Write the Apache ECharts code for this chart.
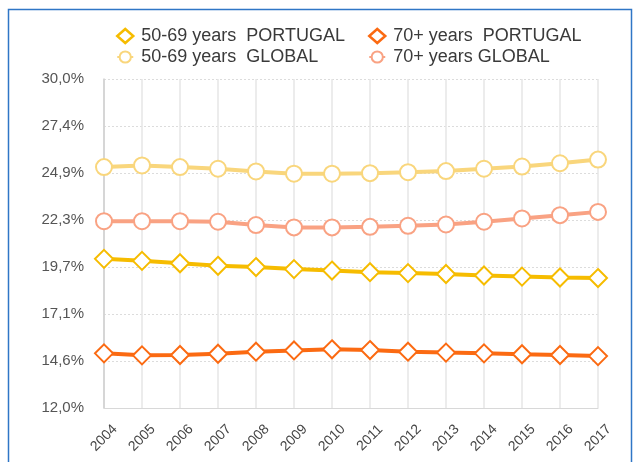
<!DOCTYPE html>
<html>
<head>
<meta charset="utf-8">
<script src="https://cdn.jsdelivr.net/npm/echarts@6/dist/echarts.min.js"></script>
<style>
  html, body { margin: 0; padding: 0; background: #fff; }
  #main { width: 636px; height: 462px; }
</style>
</head>
<body>
<div id="main"></div>
<script>
// years on the x axis
var years = ['2004', '2005', '2006', '2007', '2008', '2009', '2010',
             '2011', '2012', '2013', '2014', '2015', '2016', '2017'];

// values (%)
var pt5069 = [20.16, 20.05, 19.92, 19.78, 19.71, 19.60, 19.52, 19.43, 19.38, 19.33, 19.25, 19.19, 19.14, 19.11];
var pt70 = [14.99, 14.88, 14.90, 14.97, 15.08, 15.15, 15.21, 15.17, 15.08, 15.03, 14.99, 14.94, 14.90, 14.84];
var gl5069 = [25.18, 25.27, 25.18, 25.09, 24.94, 24.82, 24.82, 24.85, 24.90, 24.96, 25.09, 25.21, 25.39, 25.59];
var gl70 = [22.22, 22.22, 22.22, 22.19, 22.01, 21.88, 21.88, 21.91, 21.97, 22.04, 22.19, 22.37, 22.55, 22.73];

var yMin = 12, yMax = 30;

var chartDom = document.getElementById('main');
var myChart = echarts.init(chartDom);

var cPt5069 = '#f6bc00';
var cPt70 = '#fb6a12';
var cGl5069 = '#f9d67c';
var cGl70 = '#f9a283';

function diamondItem(name, color) {
  return {
    name: name,
    icon: 'diamond',
    itemStyle: { color: '#fff', borderColor: color, borderWidth: 2.5 }
  };
}

var legendText = { fontFamily: 'Liberation Sans', fontSize: 18, color: '#3a3a3a', padding: [0, 0, 0, 3] };

var option = {
  backgroundColor: '#fff',
  animation: false,
  graphic: [{
    type: 'rect',
    shape: { x: 8.5, y: 9.5, width: 623, height: 520 },
    style: { fill: 'none', stroke: '#2f76c6', lineWidth: 1.5 },
    silent: true
  }],
  legend: [
    {
      orient: 'vertical',
      left: 111,
      top: 22,
      itemWidth: 16,
      itemHeight: 14,
      itemGap: 3,
      textStyle: legendText,
      data: [diamondItem('50-69 years  PORTUGAL', cPt5069), '50-69 years  GLOBAL']
    },
    {
      orient: 'vertical',
      left: 363,
      top: 22,
      itemWidth: 16,
      itemHeight: 14,
      itemGap: 3,
      textStyle: legendText,
      data: [diamondItem('70+ years  PORTUGAL', cPt70), '70+ years GLOBAL']
    }
  ],
  grid: { left: 104, right: 38, top: 79, bottom: 54, containLabel: false },
  xAxis: {
    type: 'category',
    data: years,
    boundaryGap: false,
    axisLine: { lineStyle: { color: '#d8d8d8', width: 1 } },
    axisTick: { show: false },
    axisLabel: {
      rotate: 45,
      margin: 30,
      align: 'center',
      verticalAlign: 'middle',
      fontFamily: 'Liberation Sans',
      fontSize: 14,
      color: '#444'
    },
    splitLine: { show: true, lineStyle: { color: '#e6e6e6', width: 1.5 } }
  },
  yAxis: {
    type: 'value',
    min: yMin,
    max: yMax,
    interval: (yMax - yMin) / 7,
    axisLine: { show: true, lineStyle: { color: '#cfcfcf', width: 1.5 } },
    axisTick: { show: false },
    axisLabel: {
      margin: 20,
      fontFamily: 'Liberation Sans',
      fontSize: 15,
      color: '#555',
      formatter: function (v) { return v.toFixed(1).replace('.', ',') + '%'; }
    },
    splitLine: { lineStyle: { color: '#dcdcdc', type: [2, 2], width: 1 } }
  },
  series: [
    {
      name: '50-69 years  GLOBAL',
      type: 'line',
      data: gl5069,
      symbol: 'circle',
      symbolSize: 16,
      lineStyle: { color: cGl5069, width: 4 },
      itemStyle: { color: '#fff', borderColor: cGl5069, borderWidth: 2 },
      z: 2
    },
    {
      name: '70+ years GLOBAL',
      type: 'line',
      data: gl70,
      symbol: 'circle',
      symbolSize: 16,
      lineStyle: { color: cGl70, width: 4 },
      itemStyle: { color: '#fff', borderColor: cGl70, borderWidth: 2 },
      z: 2
    },
    {
      name: '50-69 years  PORTUGAL',
      type: 'line',
      data: pt5069,
      symbol: 'diamond',
      symbolSize: 18,
      lineStyle: { color: cPt5069, width: 4 },
      itemStyle: { color: '#fff', borderColor: cPt5069, borderWidth: 2 },
      z: 3
    },
    {
      name: '70+ years  PORTUGAL',
      type: 'line',
      data: pt70,
      symbol: 'diamond',
      symbolSize: 18,
      lineStyle: { color: cPt70, width: 4 },
      itemStyle: { color: '#fff', borderColor: cPt70, borderWidth: 2 },
      z: 3
    }
  ]
};

option && myChart.setOption(option);
</script>
</body>
</html>
